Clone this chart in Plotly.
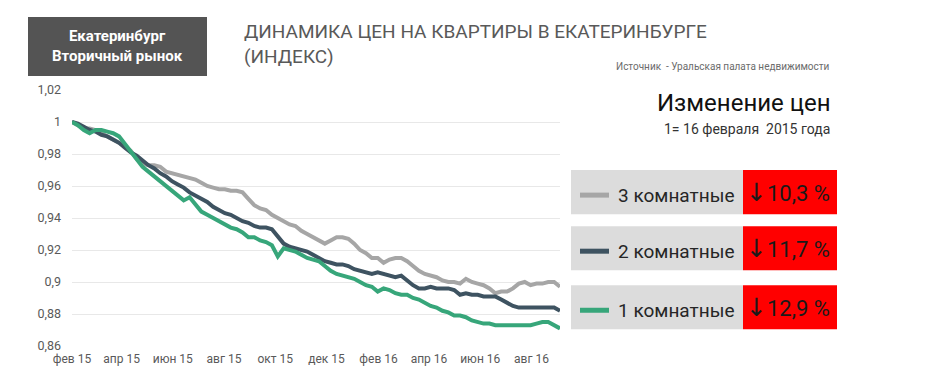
import datetime as dt
import plotly.graph_objects as go

# ---- data (weekly index, 1 = 16 Feb 2015) ----
start_date = "2015-02-16"
n_weeks = 84
room3 = [1.000, 0.998, 0.996, 0.996, 0.995, 0.993, 0.991, 0.989, 0.987, 0.985,
         0.982, 0.977, 0.974, 0.973, 0.973, 0.972, 0.969, 0.968, 0.967, 0.966,
         0.965, 0.964, 0.962, 0.960, 0.959, 0.958, 0.958, 0.957, 0.957, 0.956,
         0.952, 0.948, 0.946, 0.945, 0.942, 0.940, 0.938, 0.936, 0.935, 0.932,
         0.930, 0.928, 0.926, 0.924, 0.926, 0.928, 0.928, 0.927, 0.924, 0.920,
         0.918, 0.915, 0.915, 0.912, 0.914, 0.915, 0.915, 0.913, 0.910, 0.907,
         0.905, 0.904, 0.903, 0.901, 0.900, 0.900, 0.899, 0.902, 0.900, 0.899,
         0.898, 0.896, 0.893, 0.894, 0.894, 0.896, 0.899, 0.900, 0.898, 0.899,
         0.899, 0.900, 0.900, 0.897]
room2 = [1.000, 0.999, 0.997, 0.995, 0.994, 0.992, 0.991, 0.989, 0.987, 0.984,
         0.981, 0.979, 0.976, 0.973, 0.971, 0.968, 0.966, 0.963, 0.961, 0.959,
         0.956, 0.954, 0.952, 0.950, 0.947, 0.945, 0.943, 0.942, 0.940, 0.938,
         0.937, 0.935, 0.934, 0.934, 0.933, 0.928, 0.924, 0.922, 0.921, 0.920,
         0.919, 0.917, 0.915, 0.913, 0.912, 0.911, 0.911, 0.910, 0.908, 0.907,
         0.906, 0.905, 0.906, 0.905, 0.904, 0.903, 0.904, 0.901, 0.898, 0.896,
         0.896, 0.897, 0.896, 0.896, 0.896, 0.895, 0.892, 0.893, 0.892, 0.892,
         0.891, 0.891, 0.891, 0.889, 0.887, 0.885, 0.884, 0.884, 0.884, 0.884,
         0.884, 0.884, 0.884, 0.882]
room1 = [1.000, 0.998, 0.995, 0.993, 0.995, 0.995, 0.994, 0.993, 0.991, 0.986,
         0.981, 0.976, 0.972, 0.969, 0.966, 0.963, 0.960, 0.957, 0.954, 0.951,
         0.953, 0.948, 0.944, 0.942, 0.940, 0.938, 0.936, 0.934, 0.933, 0.931,
         0.928, 0.928, 0.926, 0.925, 0.923, 0.916, 0.921, 0.920, 0.919, 0.917,
         0.915, 0.914, 0.913, 0.910, 0.907, 0.905, 0.904, 0.903, 0.902, 0.900,
         0.898, 0.897, 0.894, 0.896, 0.895, 0.893, 0.892, 0.892, 0.890, 0.889,
         0.887, 0.885, 0.884, 0.882, 0.881, 0.879, 0.879, 0.878, 0.876, 0.875,
         0.874, 0.874, 0.873, 0.873, 0.873, 0.873, 0.873, 0.873, 0.873, 0.874,
         0.875, 0.875, 0.873, 0.871]

series_names = ["3 комнатные", "2 комнатные", "1 комнатные"]
series_changes = ["10,3 %", "11,7 %", "12,9 %"]
series_colors = ["#A6A6A6", "#3E5361", "#37A67A"]

x_tick_dates = ["2015-02-16", "2015-04-16", "2015-06-16", "2015-08-16", "2015-10-16",
                "2015-12-16", "2016-02-16", "2016-04-16", "2016-06-16", "2016-08-16"]
x_tick_labels = ["фев 15", "апр 15", "июн 15", "авг 15", "окт 15",
                 "дек 15", "фев 16", "апр 16", "июн 16", "авг 16"]
y_tick_vals = [0.86, 0.88, 0.90, 0.92, 0.94, 0.96, 0.98, 1.00, 1.02]
y_tick_labels = ["0,86", "0,88", "0,9", "0,92", "0,94", "0,96", "0,98", "1", "1,02"]

d0 = dt.date.fromisoformat(start_date)
dates = [(d0 + dt.timedelta(days=7 * i)).isoformat() for i in range(n_weeks)]

W, H = 945, 385
L, R, T, B = 72, 560, 90, 345.7


def px(xp):
    return (xp - L) / (R - L)


def py(yp):
    return (B - yp) / (B - T)


FONT = "Roboto"
fig = go.Figure()
for vals, name, col in zip([room3, room2, room1], series_names, series_colors):
    fig.add_trace(go.Scatter(x=dates, y=vals, mode="lines", name=name,
                             line=dict(color=col, width=4), showlegend=False))

fig.update_layout(
    width=W, height=H,
    margin=dict(l=L, r=W - R, t=T, b=H - B, pad=0),
    paper_bgcolor="white", plot_bgcolor="white",
    font=dict(family=FONT, color="#595959"),
    xaxis=dict(range=[dates[0], dates[-1]], tickvals=x_tick_dates, ticktext=x_tick_labels,
               showgrid=False, zeroline=False, showline=False, ticks="",
               tickfont=dict(size=12, color="#595959"), ticklabelstandoff=4),
    yaxis=dict(range=[0.86, 1.02], tickvals=y_tick_vals, ticktext=y_tick_labels,
               showgrid=True, gridcolor="#E8E8E8", gridwidth=1, zeroline=False,
               showline=False, ticks="", tickfont=dict(size=12.5, color="#595959"),
               ticklabelstandoff=10),
)

shapes = []
ann = []
# header box
shapes.append(dict(type="rect", xref="paper", yref="paper", x0=px(28), x1=px(207),
                   y0=py(76), y1=py(17), fillcolor="#545454", line=dict(width=0), layer="above"))
ann.append(dict(xref="paper", yref="paper", x=px(117.5), y=py(46.5), text="<b>Екатеринбург<br>Вторичный рынок</b>",
                showarrow=False, xanchor="center", yanchor="middle", align="center",
                font=dict(family=FONT, size=15, color="white")))
# title
ann.append(dict(xref="paper", yref="paper", x=px(242), y=py(18), text="ДИНАМИКА ЦЕН НА КВАРТИРЫ В ЕКАТЕРИНБУРГЕ<br>(ИНДЕКС)",
                showarrow=False, xanchor="left", yanchor="top", align="left",
                font=dict(family=FONT, size=19, color="#595959")))
# source
ann.append(dict(xref="paper", yref="paper", x=px(832), y=py(67), text="Источник  - Уральская палата недвижимости",
                showarrow=False, xanchor="right", yanchor="middle",
                font=dict(family=FONT, size=10, color="#6b6b6b")))
ann.append(dict(xref="paper", yref="paper", x=px(833), y=py(103), text="Изменение цен",
                showarrow=False, xanchor="right", yanchor="middle",
                font=dict(family=FONT, size=24, color="#111111")))
ann.append(dict(xref="paper", yref="paper", x=px(832), y=py(128.5), text="1= 16 февраля  2015 года",
                showarrow=False, xanchor="right", yanchor="middle",
                font=dict(family=FONT, size=14, color="#333333")))

# custom legend boxes
box_tops = [170, 226, 285]
box_h = 44
for top, name, chg, col in zip(box_tops, series_names, series_changes, series_colors):
    mid = top + box_h / 2
    shapes.append(dict(type="rect", xref="paper", yref="paper", x0=px(571), x1=px(743),
                       y0=py(top + box_h), y1=py(top), fillcolor="#DCDCDC", line=dict(width=0), layer="above"))
    shapes.append(dict(type="rect", xref="paper", yref="paper", x0=px(743), x1=px(837),
                       y0=py(top + box_h), y1=py(top), fillcolor="#FF0000", line=dict(width=0), layer="above"))
    shapes.append(dict(type="line", xref="paper", yref="paper", x0=px(580), x1=px(609),
                       y0=py(mid + 3), y1=py(mid + 3), line=dict(color=col, width=5), layer="above"))
    ann.append(dict(xref="paper", yref="paper", x=px(616), y=py(mid + 3), text=name,
                    showarrow=False, xanchor="left", yanchor="middle",
                    font=dict(family=FONT, size=19, color="#262626")))
    ann.append(dict(xref="paper", yref="paper", x=px(744), y=py(mid), 
                    text='<span style="font-family:DejaVu Sans;font-size:25px">↓</span>' + chg,
                    showarrow=False, xanchor="left", yanchor="middle",
                    font=dict(family=FONT, size=22, color="#1a1a1a")))

fig.update_layout(shapes=shapes, annotations=ann)
fig.write_html("out.html", config={"displayModeBar": False},
               post_script="document.body.style.margin='0';")
